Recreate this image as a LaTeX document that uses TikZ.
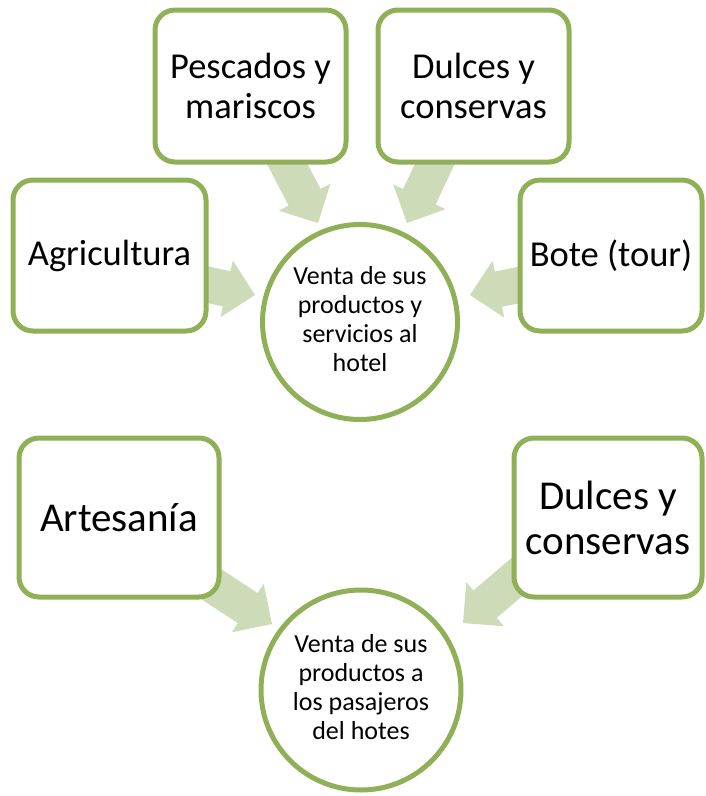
\documentclass[tikz,border=0pt]{standalone}
\usepackage{fontspec}
\setmainfont{Carlito}
\usetikzlibrary{calc}
\definecolor{bordergreen}{RGB}{143,176,86}
\definecolor{arrowfill}{RGB}{205,219,184}
\tikzset{
  box/.style={draw=bordergreen, line width=5pt, fill=white, rounded corners=20pt,
    rectangle, inner sep=0pt, align=center, text=black},
  topfont/.style={font=\fontsize{36.5}{39.5}\selectfont},
  botfont/.style={font=\fontsize{41}{45}\selectfont},
  hub/.style={draw=bordergreen, line width=5pt, fill=white, circle, inner sep=0pt,
    align=center, text=black, font=\fontsize{26}{29}\selectfont},
  blk/.style={fill=arrowfill, draw=none}
}
\newcommand{\blkarr}[2]{%
  \coordinate (bac) at ($(#2)!29pt!(#1)$);
  \fill[blk] ($(#1)!18pt!90:(#2)$) -- ($(bac)!18pt!90:(#2)$) -- ($(bac)!29pt!90:(#2)$)
    -- (#2) -- ($(bac)!29pt!-90:(#2)$) -- ($(bac)!18pt!-90:(#2)$) -- ($(#1)!18pt!-90:(#2)$) -- cycle;}
\begin{document}
\begin{tikzpicture}[x=1pt,y=-1pt]
\useasboundingbox (0,0) rectangle (705,796);
% arrow ends
\coordinate (t1) at (281,152); \coordinate (p1) at (318,223);
\coordinate (t2) at (441,151); \coordinate (p2) at (407,223);
\coordinate (t3) at (177,278); \coordinate (p3) at (255,295);
\coordinate (t4) at (548,279); \coordinate (p4) at (470,295);
\coordinate (t5) at (205,580); \coordinate (p5) at (272,624);
\coordinate (t6) at (524,571); \coordinate (p6) at (463,623);
\blkarr{t1}{p1}
\blkarr{t2}{p2}
\blkarr{t3}{p3}
\blkarr{t4}{p4}
\blkarr{t5}{p5}
\blkarr{t6}{p6}
% boxes
\node[box, topfont, minimum width=191pt, minimum height=152pt] (pesc) at (250.5,86) {Pescados y\\mariscos};
\node[box, topfont, minimum width=191pt, minimum height=152pt] (dulc1) at (473.5,86) {Dulces y\\conservas};
\node[box, topfont, minimum width=193pt, minimum height=151pt] (agri) at (109.5,255.5) {Agricultura};
\node[box, topfont, minimum width=182pt, minimum height=151pt] (bote) at (611,255.5) {Bote (tour)};
\node[box, botfont, minimum width=200pt, minimum height=159pt] (arte) at (119,517.5) {Artesanía};
\node[box, botfont, minimum width=188pt, minimum height=159pt] (dulc2) at (608,517.5) {Dulces y\\conservas};
% hubs
\node[hub, minimum size=195pt] (c1) at (360,322) {\raisebox{-3pt}{\begin{tabular}{@{}c@{}}Venta de sus\\productos y\\servicios al\\hotel\end{tabular}}};
\node[hub, minimum size=200pt] (c2) at (361,690) {\raisebox{-2pt}{\begin{tabular}{@{}c@{}}Venta de sus\\productos a\\los pasajeros\\del hotes\end{tabular}}};
\end{tikzpicture}
\end{document}
